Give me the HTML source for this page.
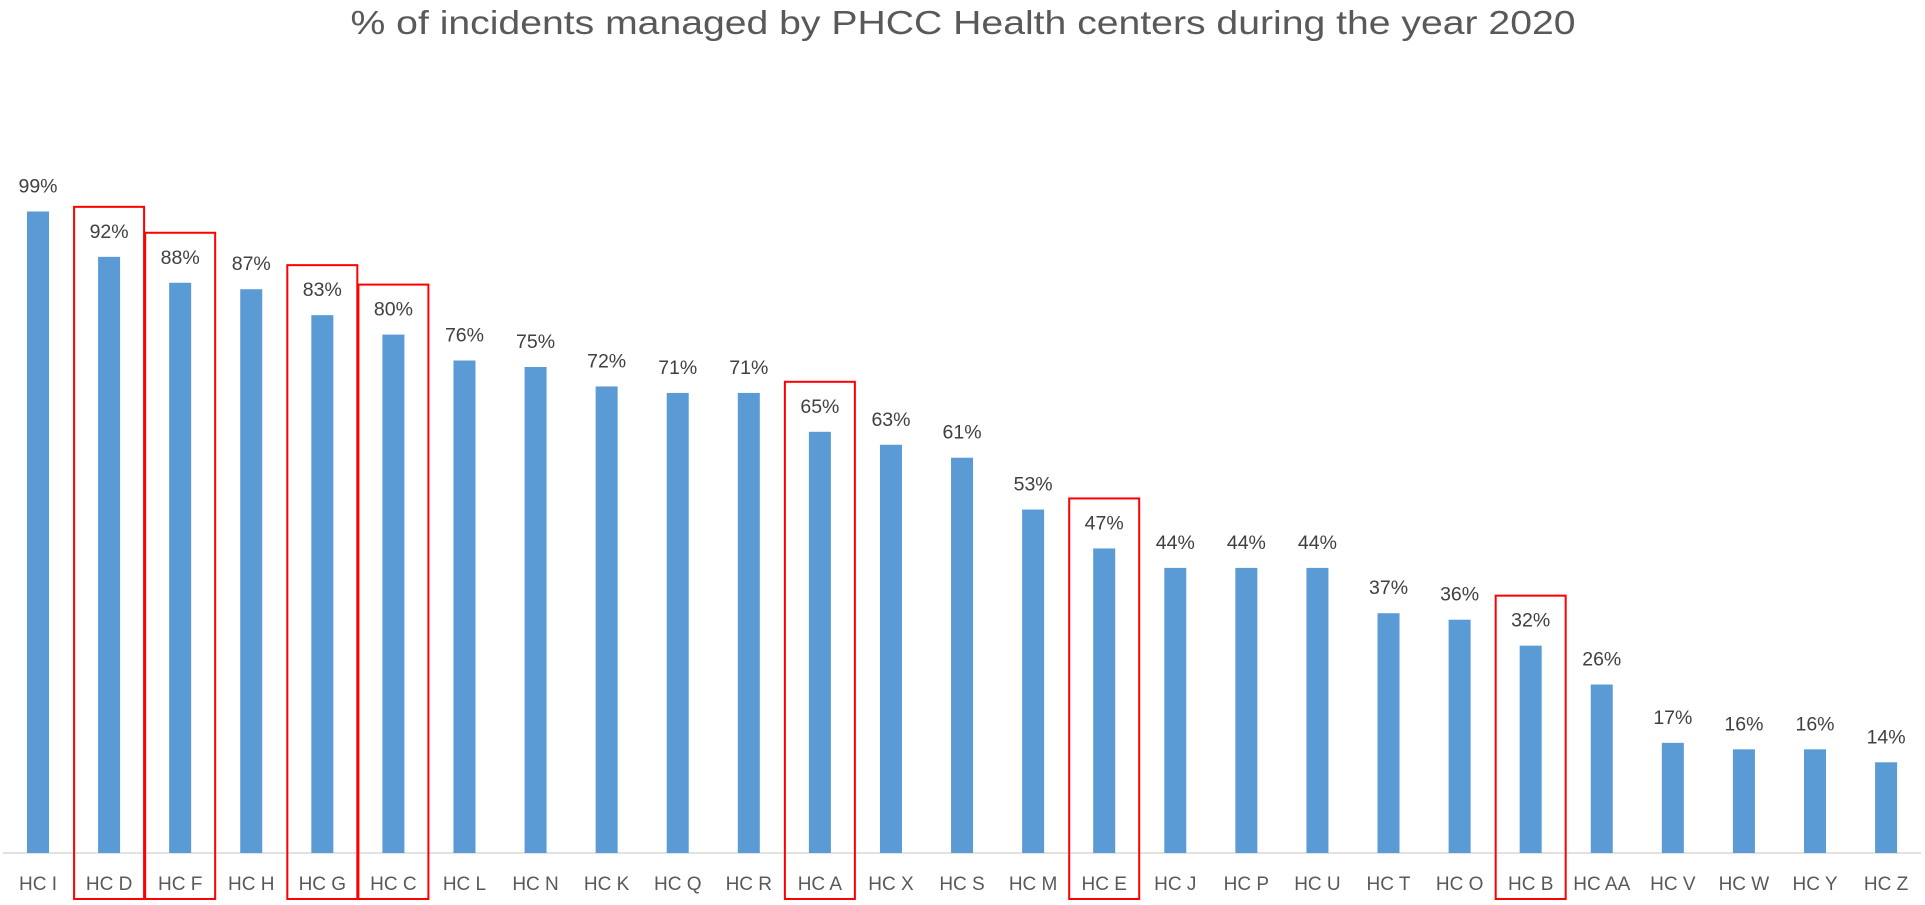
<!DOCTYPE html>
<html><head><meta charset="utf-8"><style>
body{margin:0;background:#fff;}
svg{display:block;font-family:"Liberation Sans",sans-serif;}
</style></head><body>
<svg id="chart" width="1925" height="905">
<text x="963" y="34" text-anchor="middle" font-size="33" textLength="1225" lengthAdjust="spacingAndGlyphs" fill="#595959">% of incidents managed by PHCC Health centers during the year 2020</text>
<line x1="3" y1="853" x2="1921" y2="853" stroke="#d9d9d9" stroke-width="1.5"/>
<g id="bars"></g>
</svg>
<script>
const categories=["HC I","HC D","HC F","HC H","HC G","HC C","HC L","HC N","HC K","HC Q","HC R","HC A","HC X","HC S","HC M","HC E","HC J","HC P","HC U","HC T","HC O","HC B","HC AA","HC V","HC W","HC Y","HC Z"];
const values=[99,92,88,87,83,80,76,75,72,71,71,65,63,61,53,47,44,44,44,37,36,32,26,17,16,16,14];
const highlighted=["HC D","HC F","HC G","HC C","HC A","HC E","HC B"];
const NS="http://www.w3.org/2000/svg";
const g=document.getElementById('bars');
const x=i=>38+i*71.08;
const y=v=>853-v*6.48;
function mk(t,a){const e=document.createElementNS(NS,t);for(const k in a)e.setAttribute(k,a[k]);g.appendChild(e);return e;}
categories.forEach((c,i)=>{
  const cx=x(i),v=values[i];
  const b=mk('rect',{x:cx-11,y:y(v),width:22,height:853-y(v),fill:'#5b9bd5'});
  
  
  const l=mk('text',{x:cx,y:y(v)-19,'text-anchor':'middle','font-size':19.5,fill:'#404040'});
  l.textContent=v+'%';
  
  
  const t=mk('text',{x:cx,y:890,'text-anchor':'middle','font-size':19,fill:'#595959'});
  t.textContent=c;
  
  
  if(highlighted.includes(c)){
    const r=mk('rect',{x:cx-35,y:y(v)-50,width:70,height:899-(y(v)-50),fill:'none',stroke:'#ff0000','stroke-width':2});
    
    
  }
});
</script>
</body></html>
